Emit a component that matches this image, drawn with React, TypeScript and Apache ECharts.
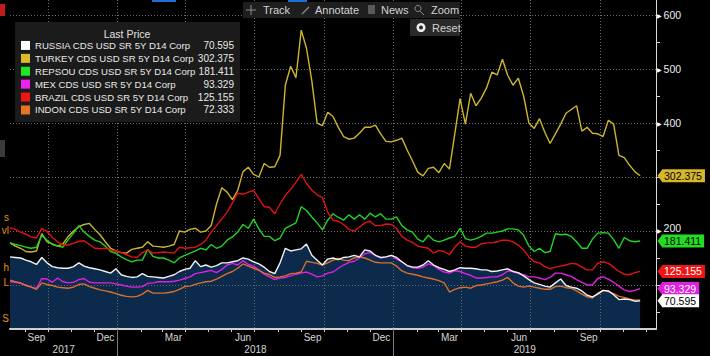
import React, { useEffect, useRef } from "react";
import * as echarts from "echarts";

const FONT = "'Liberation Sans', Arial, Helvetica, sans-serif";
const DAY = 86400000;

// x range (dates)
const AXIS_MIN = Date.UTC(2017, 7, 12);
const AXIS_MAX = Date.UTC(2019, 11, 14);
const START_DATE = Date.UTC(2017, 7, 12);
const POINT_COUNT = 120;
const dates: number[] = Array.from({ length: POINT_COUNT }, (_, i) => START_DATE + i * 7 * DAY);

// y range
const Y_MIN = 18.5;
const Y_MAX = 627.8;
const yTickValues = [50, 100, 150, 200, 250, 300, 350, 400, 450, 500, 550, 600];
const yGridValues = [100, 200, 300, 400, 500, 600];
const yLabelValues = [200, 400, 500, 600];

const monthNames = ["Jan", "Feb", "Mar", "Apr", "May", "Jun", "Jul", "Aug", "Sep", "Oct", "Nov", "Dec"];

const seriesNames = [
  "RUSSIA CDS USD SR 5Y D14 Corp",
  "TURKEY CDS USD SR 5Y D14 Corp",
  "REPSOU CDS USD SR 5Y D14 Corp",
  "MEX CDS USD SR 5Y D14 Corp",
  "BRAZIL CDS USD SR 5Y D14 Corp",
  "INDON CDS USD SR 5Y D14 Corp",
];
const swatchColors = ["#ffffff", "#dcbc2a", "#22e622", "#ee22ee", "#f01414", "#e8741e"];
const lineColors = ["#f2f2f2", "#cdb52e", "#22d422", "#e020e0", "#e01212", "#d8702a"];
const tagBg = ["#ffffff", "#d8b82a", "#22dd22", "#e020e0", "#f01414", "#e8741e"];
const tagFg = ["#000000", "#000000", "#000000", "#ffffff", "#ffffff", "#000000"];

const russia = [152,151,150,146,143,138,151,141,134,132, 131,131,134,141,135,132,130,128,125,122,
  130,119,116,114,115,121,116,115,114,113, 116,119,125,129,131,145,134,137,133,136,
  141,141,143,145,150,148,143,139,133,125, 121,141,168,163,165,167,176,155,146,137,
  148,150,147,151,152,155,152,165,163,155, 151,152,155,151,143,136,133,133,137,145,
  137,132,129,125,128,132,131,131,130,128, 128,125,126,128,130,125,123,117,110,104,
  101,98,96,104,111,99,96,94,89,81, 78,83,90,89,82,73,74,73,70,70.595];

const turkey = [178,172,168,162,161,163,195,180,176,172, 176,190,200,208,212,214,203,193,180,168,
  163,160,159,166,168,170,180,172,171,170, 172,175,200,198,203,205,198,200,210,250,
  280,272,258,275,310,318,305,300,325,318, 319,340,470,505,484,572,538,478,400,395,
  420,412,392,375,370,372,381,392,392,396, 380,366,365,368,372,350,330,309,302,316,
  318,308,325,315,380,445,398,455,432,446, 465,494,489,518,488,470,483,450,400,390,
  408,383,362,380,398,418,425,432,385,392, 381,380,375,405,398,340,336,322,310,302.375];

const repsou = [178,175,173,170,168,170,192,183,175,172, 170,184,196,210,198,190,183,180,172,162,
  159,152,147,143,146,146,166,153,150,150, 146,141,150,155,159,163,168,165,175,168,
  172,183,189,198,212,205,222,204,190,190, 182,187,205,210,215,245,238,226,215,202,
  220,232,225,220,230,222,230,222,233,226, 232,222,222,226,210,202,198,185,180,192,
  183,180,183,187,190,205,186,183,186,190, 196,196,198,200,204,204,202,192,172,162,
  168,160,162,195,193,194,190,180,168,168, 185,196,197,196,184,168,188,182,180,181.411];

const mex = [106,105,103,100,96,94,112,111,105,113, 106,104,105,110,112,105,104,104,104,104,
  102,100,98,96,96,97,103,104,106,106, 106,107,109,112,115,121,123,125,127,123,
  129,137,140,137,145,138,135,128,120,115, 110,113,114,117,120,122,124,120,115,117,
  122,124,131,137,142,144,150,158,160,155, 150,152,155,148,143,136,132,131,133,139,
  136,129,124,122,126,125,121,118,113,113, 114,115,115,119,126,125,121,119,115,115,
  113,110,114,122,122,119,116,110,105,100, 100,112,115,111,105,98,91,88,90,93.329];

const brazil = [206,203,198,194,189,187,205,199,188,180, 174,174,177,181,182,175,168,167,168,165,
  163,160,156,152,151,160,165,159,160,161, 160,159,170,168,169,170,175,183,198,210,
  222,235,252,270,268,272,275,260,245,244, 232,250,266,277,290,305,288,276,267,262,
  235,220,218,212,203,200,207,215,218,210, 210,213,212,205,190,183,179,172,170,168,
  159,164,162,156,170,180,172,170,170,176, 178,178,180,183,183,180,174,165,152,143,
  141,134,130,133,135,137,140,139,133,128, 128,140,143,140,133,125,120,119,123,125.155];

const indon = [109,106,104,99,96,92,104,101,99,96, 95,94,96,101,102,97,94,91,89,87,
  84,81,79,78,79,83,90,85,85,85, 86,88,92,97,98,101,104,106,107,111,
  116,121,125,131,139,135,131,127,122,119, 114,115,117,121,122,124,144,142,140,137,
  141,146,149,146,145,150,152,150,146,142, 141,141,141,135,126,122,120,118,115,113,
  111,108,104,87,92,95,96,94,99,100, 102,104,106,109,114,104,98,96,98,96,
  94,92,92,97,98,95,94,89,83,78, 76,85,90,88,84,79,77,74,72,72.333];

const seriesValues = [russia, turkey, repsou, mex, brazil, indon];
// order of the right-hand value tags (top to bottom)
const tagOrder = [1, 2, 4, 3, 0];

// x ticks / labels
const monthTicks: number[] = [];
for (let k = 8; k <= 35; k++) monthTicks.push(Date.UTC(2017, k, 1));
const quarterStarts: number[] = [];
for (let k = 9; k <= 33; k += 3) quarterStarts.push(Date.UTC(2017, k, 1));
const monthLabelPos: number[] = [];
for (let k = 8; k <= 32; k += 3) monthLabelPos.push(Date.UTC(2017, k, 16));
const yearStarts = [Date.UTC(2018, 0, 1), Date.UTC(2019, 0, 1)];
const yearLabelPos = [
  (AXIS_MIN + yearStarts[0]) / 2,
  (yearStarts[0] + yearStarts[1]) / 2,
  (yearStarts[1] + AXIS_MAX) / 2,
];

const fmt = (v: number) => String(v);

export default function App() {
  const ref = useRef<HTMLDivElement>(null);
  useEffect(() => {
    document.body.style.margin = "0";
    document.body.style.background = "#000";
    const chart = echarts.init(ref.current!, null, { renderer: "svg" });
    const commonX = { type: "value" as const, min: AXIS_MIN, max: AXIS_MAX, position: "bottom" as const };
    const commonY = { type: "value" as const, min: Y_MIN, max: Y_MAX, position: "right" as const };
    const lastByName: Record<string, string> = {};
    seriesNames.forEach((n, i) => (lastByName[n] = fmt(seriesValues[i][seriesValues[i].length - 1])));

    const lineSeries = seriesNames.map((name, i) => ({
      name,
      type: "line",
      xAxisIndex: 0,
      yAxisIndex: 0,
      data: dates.map((d, j) => [d, seriesValues[i][j]]),
      showSymbol: false,
      symbol: "none",
      silent: true,
      z: i === 0 ? 4 : 3,
      itemStyle: { color: swatchColors[i] },
      lineStyle: { color: lineColors[i], width: 1.4 },
      emphasis: { disabled: true },
    }));

    chart.setOption({
      animation: false,
      backgroundColor: "#000000",
      textStyle: { fontFamily: FONT },
      grid: { left: 10, right: 54, top: 0, bottom: 27, containLabel: false },
      xAxis: [
        {
          ...commonX,
          z: 5,
          axisLine: { show: true, onZero: false, lineStyle: { color: "#cfcfcf", width: 2 } },
          axisTick: { show: true, customValues: monthTicks, length: 3, lineStyle: { color: "#cfcfcf" } },
          axisLabel: {
            customValues: monthLabelPos,
            formatter: (v: number) => monthNames[new Date(v).getUTCMonth()],
            color: "#d6d6d6",
            fontSize: 10,
            fontFamily: FONT,
            margin: 3,
          },
          splitLine: { show: false },
        },
        {
          ...commonX,
          z: 2,
          axisLine: { show: false, onZero: false },
          axisTick: { show: false, customValues: quarterStarts },
          axisLabel: { show: false },
          splitLine: { show: true, lineStyle: { color: "#6a6a6a", width: 1, type: [1, 2] } },
        },
        {
          ...commonX,
          z: 5,
          axisLine: { show: false, onZero: false },
          axisTick: { show: true, customValues: yearStarts, length: 27, lineStyle: { color: "#7c7c7c" } },
          axisLabel: {
            customValues: yearLabelPos,
            formatter: (v: number) => String(new Date(v).getUTCFullYear()),
            color: "#d6d6d6",
            fontSize: 10,
            fontFamily: FONT,
            margin: 15,
          },
          splitLine: { show: false },
        },
      ],
      yAxis: [
        {
          ...commonY,
          z: 5,
          axisLine: { show: true, onZero: false, lineStyle: { color: "#d9d9d9", width: 1 } },
          axisTick: { show: true, customValues: yTickValues, length: 4, lineStyle: { color: "#d9d9d9" } },
          axisLabel: {
            customValues: yLabelValues,
            margin: 1,
            formatter: (v: number) => (v === 200 ? `{f|\u25B6}{u|${v}}` : `{f|\u25B6}{t|${v}}`),
            rich: {
              f: { fontSize: 6, color: "#ffffff", fontFamily: "DejaVu Sans" },
              t: { fontSize: 10.5, color: "#ececec", fontFamily: FONT, padding: [0, 0, 0, 2] },
              u: { fontSize: 10.5, color: "#ececec", fontFamily: FONT, padding: [0, 0, 5, 2] },
            },
          },
          splitLine: { show: false },
        },
        {
          ...commonY,
          z: 2,
          axisLine: { show: false, onZero: false },
          axisTick: { show: false, customValues: yGridValues },
          axisLabel: { show: false },
          splitLine: { show: true, lineStyle: { color: "#6a6a6a", width: 1, type: [1, 2] } },
        },
      ],
      legend: {
        data: seriesNames,
        left: 15,
        top: 22,
        orient: "vertical",
        padding: [17, 6, 5.5, 6],
        itemWidth: 9,
        itemHeight: 9,
        itemGap: 0,
        icon: "rect",
        selectedMode: false,
        backgroundColor: "#1b1b1b",
        itemStyle: { borderWidth: 0 },
        formatter: (name: string) => `{n|${name}}{v|${lastByName[name]}}`,
        textStyle: {
          color: "#e8e8e8",
          fontFamily: FONT,
          fontSize: 9.6,
          lineHeight: 12.9,
          rich: {
            n: { width: 160, fontSize: 9.6, lineHeight: 12.9, color: "#e8e8e8", fontFamily: FONT },
            v: { width: 39, align: "right", fontSize: 10, lineHeight: 12.9, color: "#e8e8e8", fontFamily: FONT },
          },
        },
      },
      series: [
        {
          name: "RUSSIA_AREA",
          type: "line",
          xAxisIndex: 0,
          yAxisIndex: 0,
          data: dates.map((d, j) => [d, russia[j]]),
          showSymbol: false,
          symbol: "none",
          silent: true,
          z: 1,
          lineStyle: { width: 0, opacity: 0 },
          areaStyle: { color: "#0c2a4c", opacity: 1, origin: "start" },
          emphasis: { disabled: true },
        },
        ...lineSeries,
      ],
    });

    const xr = chart.convertToPixel({ xAxisIndex: 0 }, AXIS_MAX) as number;
    const elements: any[] = [];

    // toolbar
    elements.push({ type: "rect", shape: { x: 243, y: 2, width: 217, height: 16 }, style: { fill: "#1e1e1e" }, z: 90 });
    elements.push({ type: "rect", shape: { x: 152, y: 0, width: 24, height: 2 }, style: { fill: "#1f6fd6" }, z: 90 });
    elements.push({ type: "rect", shape: { x: 288, y: 0, width: 19, height: 2 }, style: { fill: "#1f6fd6" }, z: 90 });
    elements.push({ type: "line", shape: { x1: 246, y1: 10, x2: 256, y2: 10 }, style: { stroke: "#8c8c8c", lineWidth: 1 }, z: 91 });
    elements.push({ type: "line", shape: { x1: 251, y1: 5, x2: 251, y2: 15 }, style: { stroke: "#8c8c8c", lineWidth: 1 }, z: 91 });
    elements.push({ type: "line", shape: { x1: 302, y1: 14, x2: 309, y2: 7 }, style: { stroke: "#8c8c8c", lineWidth: 1.2 }, z: 91 });
    elements.push({ type: "rect", shape: { x: 368, y: 5, width: 7, height: 9 }, style: { fill: "#5a5a5a" }, z: 91 });
    elements.push({ type: "circle", shape: { cx: 418, cy: 8.5, r: 3 }, style: { fill: "none", stroke: "#8c8c8c", lineWidth: 1 }, z: 91 });
    elements.push({ type: "line", shape: { x1: 420, y1: 11, x2: 424, y2: 15 }, style: { stroke: "#8c8c8c", lineWidth: 1 }, z: 91 });
    const toolText = (text: string, x: number, y: number) => ({
      type: "text", x, y, z: 92,
      style: { text, fill: "#d2d2d2", font: `11px ${FONT}`, verticalAlign: "middle", align: "left" },
    });
    elements.push(toolText("Track", 263, 10));
    elements.push(toolText("Annotate", 315, 10));
    elements.push(toolText("News", 381, 10));
    elements.push(toolText("Zoom", 431, 10));
    elements.push({ type: "rect", shape: { x: 410, y: 19, width: 50, height: 17 }, style: { fill: "#2a2a2a" }, z: 90 });
    elements.push({ type: "circle", shape: { cx: 421, cy: 27.5, r: 4.5 }, style: { fill: "#f0f0f0" }, z: 91 });
    elements.push({ type: "circle", shape: { cx: 421, cy: 27.5, r: 2 }, style: { fill: "#2a2a2a" }, z: 92 });
    elements.push(toolText("Reset", 432, 28));

    // legend header
    elements.push({
      type: "text", x: 127, y: 34, z: 95,
      style: { text: "Last Price", fill: "#e0e0e0", font: `10.5px ${FONT}`, align: "center", verticalAlign: "middle" },
    });

    // left edge fragments from neighbouring panel
    elements.push({ type: "rect", shape: { x: 0, y: 4, width: 5, height: 12 }, style: { fill: "#c41a1a" }, z: 90 });
    elements.push({ type: "rect", shape: { x: 0, y: 140, width: 5, height: 17 }, style: { fill: "#3a3a3a" }, z: 90 });
    const frag = (text: string, y: number) => ({
      type: "text", x: 9, y, z: 90,
      style: { text, fill: "#e8901c", font: `10px ${FONT}`, align: "right", verticalAlign: "middle" },
    });
    elements.push(frag("s", 217));
    elements.push(frag("vl", 230));
    elements.push(frag("h", 267));
    elements.push(frag("L", 282));
    elements.push(frag("S", 318));

    // right-hand value tags
    tagOrder.forEach((si) => {
      const vals = seriesValues[si];
      const v = vals[vals.length - 1];
      const y = chart.convertToPixel({ yAxisIndex: 0 }, v) as number;
      elements.push({
        type: "polygon", z: 100,
        shape: { points: [[xr + 1.5, y], [xr + 6, y - 6], [xr + 6, y + 6]] },
        style: { fill: tagBg[si] },
      });
      elements.push({
        type: "text", x: xr + 6, y, z: 101,
        style: {
          text: fmt(v), fill: tagFg[si], font: `10.5px ${FONT}`,
          backgroundColor: tagBg[si], padding: [1, 3, 1, 2],
          align: "left", verticalAlign: "middle",
        },
      });
    });

    chart.setOption({ graphic: { elements } });

    return () => chart.dispose();
  }, []);

  return (
    <div
      ref={ref}
      style={{ position: "fixed", left: 0, top: 0, width: 710, height: 356, background: "#000" }}
    />
  );
}
